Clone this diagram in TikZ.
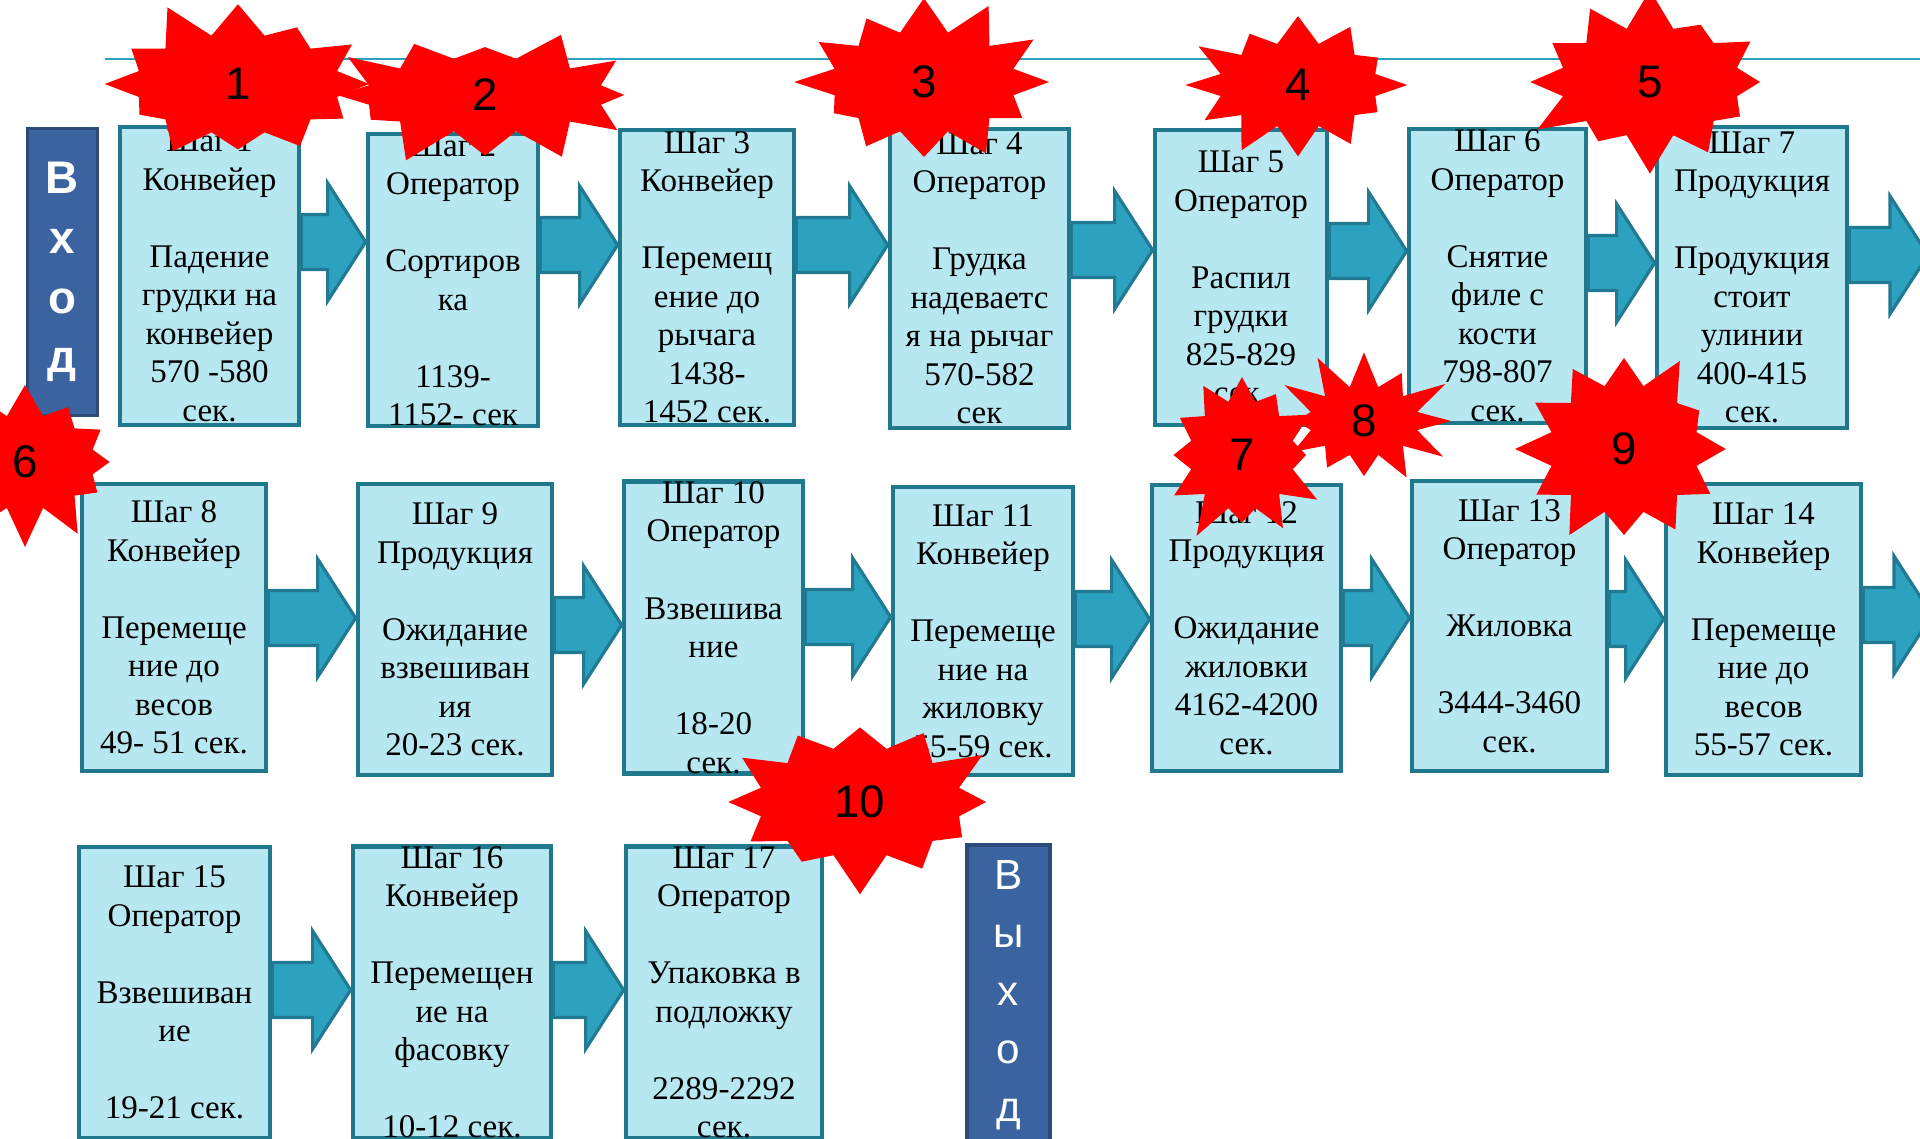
\documentclass[tikz,border=0pt]{standalone}
\usepackage{fontspec}
\setmainfont{Liberation Serif}
\newfontfamily\numfont{Liberation Sans}
\usetikzlibrary{calc,shapes.symbols}
\definecolor{cellcyan}{RGB}{183,232,242}
\definecolor{cellteal}{RGB}{31,120,140}
\definecolor{arrowteal}{RGB}{44,162,192}
\definecolor{arrowedge}{RGB}{33,121,146}
\definecolor{gatenavy}{RGB}{58,99,160}
\definecolor{gateedge}{RGB}{44,74,122}
\definecolor{burstred}{RGB}{255,0,0}

% block arrow from one box to the next, #3 = y of the shaft
\newcommand{\flowarrow}[3]{%
  \path[flowarr] let \p1=(#1 |- 0,#3), \p2=(#2 |- 0,#3) in
    (\x1,\y1+0.275cm) -- (\x2-0.38cm,\y1+0.275cm) -- (\x2-0.38cm,\y1+0.59cm)
    -- (\x2,\y1) -- (\x2-0.38cm,\y1-0.59cm) -- (\x2-0.38cm,\y1-0.275cm)
    -- (\x1,\y1-0.275cm) -- cycle;}

\begin{document}
\begin{tikzpicture}[x=0.01cm, y=-0.01cm,
  stepbox/.style={rectangle, draw=cellteal, line width=1.3pt, fill=cellcyan,
                  align=center, inner sep=0pt,
                  font=\fontsize{9.4}{10.95}\selectfont},
  gatebox/.style={rectangle, draw=gateedge, line width=1pt, fill=gatenavy,
                  align=center, text=white, inner sep=0pt},
  flowarr/.style={fill=arrowteal, draw=arrowedge, line width=0.9pt, line join=miter},
  burst/.style={starburst, fill=burstred, draw=none, inner sep=0pt,
                starburst points=12, starburst point height=0.4cm,
                font=\numfont\fontsize{13}{15}\selectfont},
  topline/.style={draw=arrowteal, line width=0.8pt}
]
\clip (0,0) rectangle (1920,1139);

% line at the top
\draw[topline] (105,59) -- (1920,59);

% Entry and exit
\node[gatebox, minimum width=0.70cm, minimum height=2.87cm,
      font=\numfont\bfseries\fontsize{13}{17}\selectfont] (entry) at (62.5,272) {В\\х\\о\\д};
\node[gatebox, minimum width=0.83cm, minimum height=3.00cm,
      font=\numfont\fontsize{12}{16.5}\selectfont] (exit) at (1008.5,995) {В\\ы\\х\\о\\д};

% Row 1
\node[stepbox, minimum width=1.79cm, minimum height=2.98cm] (s1) at (209.5,276) {Шаг 1\\Конвейер\\ \\Падение\\грудки на\\конвейер\\570 -580\\сек.};
\node[stepbox, minimum width=1.70cm, minimum height=2.90cm] (s2) at (453,280) {Шаг 2\\Оператор\\ \\Сортиров\\ка\\ \\1139-\\1152- сек};
\node[stepbox, minimum width=1.74cm, minimum height=2.95cm] (s3) at (707,277.5) {Шаг 3\\Конвейер\\ \\Перемещ\\ение до\\рычага\\1438-\\1452 сек.};
\node[stepbox, minimum width=1.79cm, minimum height=2.99cm] (s4) at (979.5,278.5) {Шаг 4\\Оператор\\ \\Грудка\\надеваетс\\я на рычаг\\570-582\\сек};
\node[stepbox, minimum width=1.72cm, minimum height=2.95cm] (s5) at (1241,277.5) {Шаг 5\\Оператор\\ \\Распил\\грудки\\825-829\\сек.};
\node[stepbox, minimum width=1.77cm, minimum height=2.94cm] (s6) at (1497.5,276) {Шаг 6\\Оператор\\ \\Снятие\\филе с\\кости\\798-807\\сек.};
\node[stepbox, minimum width=1.90cm, minimum height=3.01cm] (s7) at (1752,277.5) {Шаг 7\\Продукция\\ \\Продукция\\стоит\\улинии\\400-415\\сек.};

% Row 2
\node[stepbox, minimum width=1.84cm, minimum height=2.87cm] (s8) at (174,627.5) {Шаг 8\\Конвейер\\ \\Перемеще\\ние до\\весов\\49- 51 сек.};
\node[stepbox, minimum width=1.94cm, minimum height=2.91cm] (s9) at (455,629.5) {Шаг 9\\Продукция\\ \\Ожидание\\взвешиван\\ия\\20-23 сек.};
\node[stepbox, minimum width=1.79cm, minimum height=2.87cm] (s10) at (713.5,627.5) {Шаг 10\\Оператор\\ \\Взвешива\\ние\\ \\18-20\\сек.};
\node[stepbox, minimum width=1.80cm, minimum height=2.88cm] (s11) at (983,631) {Шаг 11\\Конвейер\\ \\Перемеще\\ние на\\жиловку\\55-59 сек.};
\node[stepbox, minimum width=1.89cm, minimum height=2.86cm] (s12) at (1246.5,628) {Шаг 12\\Продукция\\ \\Ожидание\\жиловки\\4162-4200\\сек.};
\node[stepbox, minimum width=1.95cm, minimum height=2.90cm] (s13) at (1509.5,626) {Шаг 13\\Оператор\\ \\Жиловка\\ \\3444-3460\\сек.};
\node[stepbox, minimum width=1.95cm, minimum height=2.91cm] (s14) at (1763.5,629.5) {Шаг 14\\Конвейер\\ \\Перемеще\\ние до\\весов\\55-57 сек.};

% Row 3
\node[stepbox, minimum width=1.91cm, minimum height=2.91cm] (s15) at (174.5,992.5) {Шаг 15\\Оператор\\ \\Взвешиван\\ие\\ \\19-21 сек.};
\node[stepbox, minimum width=1.98cm, minimum height=2.91cm] (s16) at (452,992.5) {Шаг 16\\Конвейер\\ \\Перемещен\\ие на\\фасовку\\ \\10-12 сек.};
\node[stepbox, minimum width=1.96cm, minimum height=2.91cm] (s17) at (724,992.5) {Шаг 17\\Оператор\\ \\Упаковка в\\подложку\\ \\2289-2292\\сек.};

\coordinate (exit1) at (1928,255);
\coordinate (exit2) at (1932,615);

% Arrows
\flowarrow{s1.east}{s2.west}{242}
\flowarrow{s2.east}{s3.west}{245}
\flowarrow{s3.east}{s4.west}{245}
\flowarrow{s4.east}{s5.west}{250}
\flowarrow{s5.east}{s6.west}{251}
\flowarrow{s6.east}{s7.west}{263}
\flowarrow{s7.east}{exit1}{255}
\flowarrow{s8.east}{s9.west}{618}
\flowarrow{s9.east}{s10.west}{625}
\flowarrow{s10.east}{s11.west}{617}
\flowarrow{s11.east}{s12.west}{619}
\flowarrow{s12.east}{s13.west}{618}
\flowarrow{s13.east}{s14.west}{619}
\flowarrow{s14.east}{exit2}{615}
\flowarrow{s15.east}{s16.west}{990}
\flowarrow{s16.east}{s17.west}{990}

% Bottleneck marks
\node[burst, minimum width=2.85cm, minimum height=1.80cm, random starburst=11] (m1) at (238,84) {1};
\node[burst, minimum width=3.20cm, minimum height=1.55cm, random starburst=23] (m2) at (485,95) {2};
\node[burst, minimum width=2.65cm, minimum height=1.82cm, random starburst=37] (m3) at (924,82) {3};
\node[burst, minimum width=2.40cm, minimum height=1.65cm, random starburst=41] (m4) at (1298,85) {4};
\node[burst, minimum width=2.60cm, minimum height=1.90cm, random starburst=53] (m5) at (1650,82) {5};
\node[burst, minimum width=2.20cm, minimum height=1.75cm, random starburst=67] (m6) at (25,462) {6};
\node[burst, minimum width=1.85cm, minimum height=1.90cm, random starburst=71] (m7) at (1242,455) {7};
\node[burst, minimum width=1.90cm, minimum height=1.50cm, random starburst=83] (m8) at (1364,421) {8};
\node[burst, minimum width=2.30cm, minimum height=2.10cm, random starburst=97] (m9) at (1624,449) {9};
\node[burst, minimum width=2.85cm, minimum height=1.90cm, random starburst=101] (m10) at (860,802) {10};
\end{tikzpicture}
\end{document}
